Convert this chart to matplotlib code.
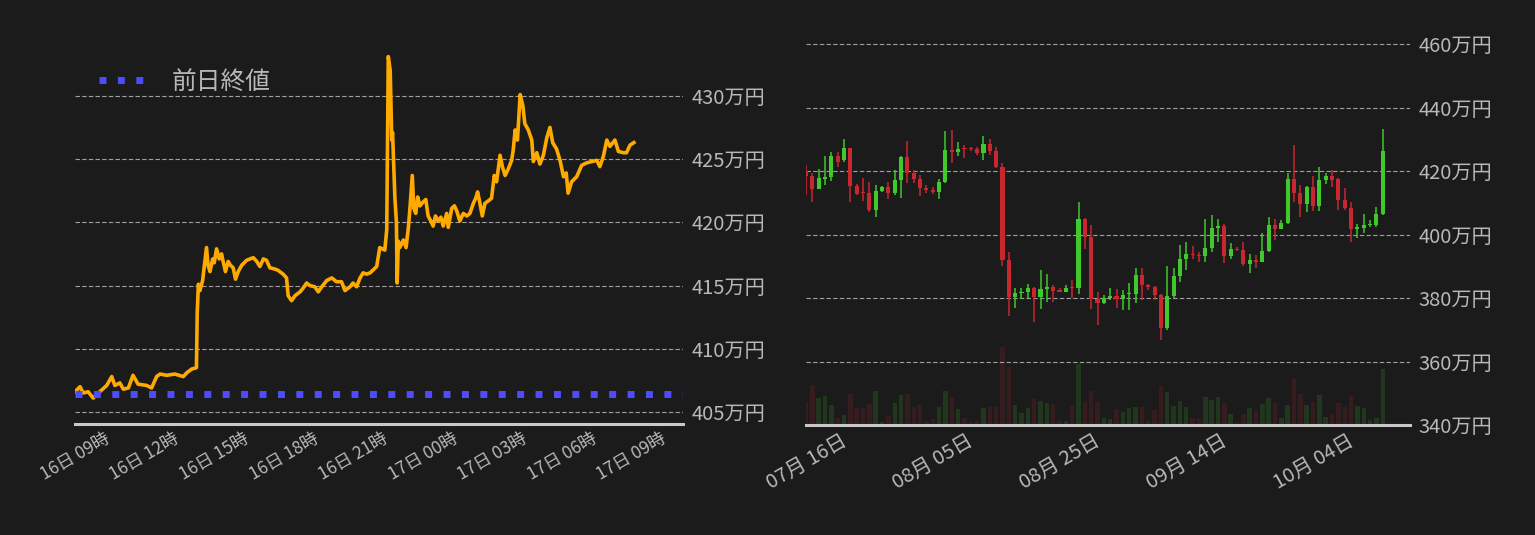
import numpy as np
import pandas as pd
import matplotlib
matplotlib.use('Agg')
import matplotlib.pyplot as plt
import matplotlib.dates as mdates
from matplotlib.ticker import FuncFormatter, FixedLocator

# ---------------- data ----------------
intraday_base = '2024-10-16 09:00'
intraday_minutes = [-98, -85, -77, -64, -51, -34, -16, -3, 5, 18,
                    27, 40, 52, 65, 87, 100, 113, 122, 139, 160,
                    182, 191, 204, 216, 218, 221, 225, 232, 238, 242,
                    246, 251, 258, 262, 268, 275, 281, 285, 291, 298,
                    304, 311, 317, 324, 333, 346, 363, 372, 380, 389,
                    397, 406, 419, 427, 440, 449, 453, 462, 471, 484,
                    492, 501, 509, 522, 531, 540, 553, 566, 578, 591,
                    600, 613, 621, 630, 639, 647, 656, 665, 682, 690,
                    703, 708, 712, 717, 721, 723, 729, 733, 735, 738,
                    742, 751, 758, 764, 768, 774, 778, 783, 788, 794,
                    802, 809, 815, 822, 828, 834, 841, 848, 854, 863,
                    867, 876, 883, 889, 897, 906, 915, 923, 932, 938,
                    943, 949, 955, 962, 971, 979, 986, 992, 1001, 1007,
                    1014, 1022, 1031, 1035, 1040, 1046, 1053, 1060, 1065, 1074,
                    1083, 1087, 1096, 1104, 1113, 1122, 1130, 1137, 1147, 1156,
                    1165, 1172, 1177, 1186, 1199, 1212, 1225, 1238, 1251, 1259,
                    1268, 1277, 1285, 1298, 1307, 1320, 1328, 1337, 1347]
intraday_price = [406.6, 407.0, 406.5, 406.6, 406.1, 406.6, 407.1, 407.8, 407.1, 407.3,
                  406.8, 406.9, 407.9, 407.2, 407.1, 406.9, 407.8, 408.0, 407.9, 408.0,
                  407.8, 408.1, 408.4, 408.5, 412.8, 415.1, 414.6, 415.4, 417.0, 418.0,
                  416.6, 416.1, 417.1, 416.8, 417.9, 417.1, 417.5, 416.9, 416.1, 416.9,
                  416.6, 416.4, 415.5, 416.1, 416.6, 417.0, 417.2, 416.9, 416.5, 417.1,
                  417.0, 416.4, 416.3, 416.2, 415.9, 415.6, 414.2, 413.8, 414.2, 414.5,
                  414.8, 415.2, 415.0, 414.9, 414.5, 414.9, 415.4, 415.6, 415.3, 415.3,
                  414.6, 414.9, 415.2, 414.9, 415.6, 416.0, 415.9, 416.0, 416.5, 418.0,
                  417.8, 419.4, 433.1, 432.0, 426.5, 427.1, 422.0, 420.0, 415.2, 418.5,
                  418.0, 418.6, 418.0, 419.6, 421.1, 423.7, 421.1, 420.7, 422.0, 421.3,
                  421.6, 421.8, 420.5, 420.1, 419.7, 420.5, 420.1, 420.4, 419.7, 420.7,
                  419.6, 421.1, 421.3, 420.9, 420.1, 420.7, 420.5, 420.7, 421.5, 421.9,
                  422.4, 421.5, 420.5, 421.5, 421.7, 421.9, 423.7, 423.2, 425.3, 424.4,
                  423.7, 424.2, 424.9, 425.7, 427.3, 426.5, 430.1, 429.2, 427.8, 427.3,
                  426.5, 424.8, 425.5, 424.6, 425.3, 426.7, 427.5, 426.3, 425.8, 424.9,
                  423.6, 423.9, 422.3, 423.2, 423.6, 424.5, 424.7, 424.8, 424.9, 424.4,
                  425.2, 426.5, 426.0, 426.5, 425.6, 425.5, 425.5, 426.1, 426.3]
prev_close = 406.42
legend_label = '前日終値'
intraday_yticks = [405, 410, 415, 420, 425, 430]

daily_start = '2024-07-09'
daily_open = [419.9, 418.5, 414.4, 417.6, 418.0, 424.8, 423.4, 427.3, 415.4, 413.2,
              413.2, 407.6, 413.6, 415.1, 413.0, 417.1, 424.5, 419.5, 417.6, 414.8,
              414.1, 413.3, 416.4, 426.7, 425.9, 427.0, 427.0, 427.0, 425.6, 428.6,
              426.4, 421.4, 392.1, 380.2, 381.5, 381.8, 383.3, 380.2, 382.7, 383.6,
              382.3, 382.0, 383.3, 383.0, 405.0, 399.3, 379.8, 378.3, 380.1, 380.7,
              379.6, 381.2, 381.2, 387.3, 384.2, 383.6, 381.0, 370.4, 380.5, 386.8,
              392.2, 394.0, 393.6, 393.1, 395.6, 401.9, 402.8, 393.1, 395.5, 395.2,
              390.6, 392.1, 391.2, 394.7, 403.1, 401.8, 403.5, 417.6, 413.2, 409.5,
              415.1, 408.9, 417.1, 418.5, 417.6, 411.0, 408.5, 401.6, 401.9, 402.9,
              402.9, 406.4]
daily_high = [422.0, 419.4, 420.6, 424.8, 426.1, 425.9, 430.2, 427.4, 416.0, 417.8,
              416.6, 415.7, 415.4, 416.6, 420.4, 424.6, 429.6, 420.4, 418.8, 415.5,
              415.1, 417.6, 432.7, 433.0, 429.2, 428.3, 427.5, 427.7, 431.1, 430.2,
              427.7, 422.6, 394.6, 383.3, 383.3, 384.5, 383.6, 388.9, 387.7, 384.2,
              383.3, 384.2, 385.8, 410.3, 405.3, 403.1, 382.0, 381.0, 383.3, 382.9,
              382.6, 384.8, 389.6, 389.6, 384.3, 383.7, 381.4, 390.2, 389.6, 396.8,
              397.7, 396.5, 394.6, 405.0, 406.2, 405.0, 403.4, 397.4, 396.0, 397.7,
              394.0, 393.6, 400.6, 405.6, 405.0, 404.7, 419.5, 428.3, 415.7, 415.4,
              418.5, 421.4, 419.5, 420.4, 417.9, 414.8, 410.3, 403.4, 406.6, 404.7,
              408.8, 433.3]
daily_low = [412.5, 410.1, 414.2, 415.7, 417.0, 421.2, 422.7, 410.1, 412.5, 410.7,
             407.0, 405.4, 413.5, 411.1, 412.5, 411.4, 416.1, 416.1, 412.0, 413.0,
             412.7, 411.1, 416.3, 422.4, 424.6, 424.0, 426.2, 425.2, 423.4, 424.9,
             421.1, 390.0, 374.2, 376.7, 379.6, 379.9, 372.3, 376.4, 378.6, 378.9,
             381.8, 381.8, 379.9, 381.2, 395.3, 376.4, 371.4, 378.0, 379.3, 376.7,
             376.1, 376.1, 378.3, 379.3, 382.4, 379.3, 366.8, 369.8, 379.9, 385.2,
             388.7, 392.2, 391.5, 391.5, 394.4, 397.7, 390.9, 392.2, 394.7, 390.0,
             387.8, 389.3, 391.2, 394.4, 398.2, 401.7, 403.4, 410.1, 405.4, 407.0,
             407.3, 407.3, 415.8, 415.1, 407.6, 407.6, 397.5, 398.8, 400.4, 402.3,
             402.3, 406.0]
daily_close = [418.3, 414.4, 417.9, 418.2, 424.8, 422.9, 427.3, 415.2, 412.9, 413.0,
               407.6, 413.8, 415.1, 413.0, 417.3, 424.5, 419.3, 417.4, 414.5, 413.9,
               413.3, 416.6, 426.7, 425.9, 427.0, 426.8, 426.8, 425.6, 428.6, 426.2,
               421.2, 391.9, 380.2, 381.7, 382.0, 383.3, 380.2, 382.9, 383.6, 382.1,
               382.0, 383.3, 383.0, 405.0, 399.1, 379.6, 378.3, 380.1, 380.7, 379.6,
               381.0, 381.4, 387.3, 384.0, 383.4, 380.8, 370.4, 380.7, 387.0, 392.4,
               394.0, 393.4, 393.1, 395.9, 402.2, 402.8, 393.1, 395.5, 395.0, 390.6,
               392.1, 391.2, 394.9, 403.1, 401.8, 403.7, 417.6, 413.0, 409.5, 415.1,
               408.9, 417.3, 418.5, 417.3, 410.8, 408.2, 401.6, 402.3, 403.1, 403.1,
               406.6, 426.4]
daily_volume = [69, 121, 81, 87, 60, 22, 30, 94, 51, 51,
                63, 102, 9, 27, 66, 90, 94, 54, 60, 12,
                18, 54, 102, 82, 48, 21, 9, 15, 51, 54,
                54, 234, 174, 60, 36, 51, 78, 72, 67, 63,
                12, 12, 57, 183, 69, 102, 69, 21, 18, 48,
                39, 51, 54, 54, 15, 45, 117, 99, 57, 72,
                54, 21, 18, 84, 75, 84, 66, 33, 9, 33,
                51, 42, 63, 81, 66, 21, 60, 138, 93, 60,
                69, 90, 24, 33, 66, 54, 87, 57, 51, 15,
                21, 168]
daily_yticks = [340, 360, 380, 400, 420, 440, 460]

# ---------------- style ----------------
plt.rcParams['font.family'] = ['Noto Sans CJK JP', 'DejaVu Sans']
BG = '#1b1b1b'
TXT = '#b8b8b8'
GRID = '#a0a0a0'
SPINE = '#c8c8c8'
ORANGE = '#ffaa00'
BLUE = '#4d4dff'
RED = '#c9262f'
GREEN = '#3fc92a'

W, H = 1535, 535
fig = plt.figure(figsize=(W / 100, H / 100), dpi=100, facecolor=BG)


def rect(x0, y0, x1, y1):
    return [x0 / W, 1 - y1 / H, (x1 - x0) / W, (y1 - y0) / H]


def style_axes(ax):
    ax.set_facecolor('none')
    for s in ['top', 'left', 'right']:
        ax.spines[s].set_visible(False)
    ax.spines['bottom'].set_color(SPINE)
    ax.spines['bottom'].set_linewidth(2.2)
    ax.yaxis.tick_right()
    ax.tick_params(axis='both', length=0, colors=TXT)
    ax.grid(axis='y', color=GRID, linestyle=(0, (4, 2)), linewidth=0.8)
    ax.grid(axis='x', visible=False)
    ax.set_axisbelow(True)


yen_fmt = FuncFormatter(lambda v, p: f'{v:.0f}万円')

# ---------------- left: intraday ----------------
ax1 = fig.add_axes(rect(75, 38, 683, 424))
style_axes(ax1)
base = pd.Timestamp(intraday_base)
t = [base + pd.Timedelta(minutes=m) for m in intraday_minutes]
ax1.plot(t, intraday_price, color=ORANGE, lw=2.6, zorder=3, solid_joinstyle='round')
ax1.axhline(prev_close, color=BLUE, linestyle=':', lw=5, zorder=4, label=legend_label,
            dash_capstyle='butt')
ax1.set_xlim(t[0], base + pd.Timedelta(minutes=1474))
ax1.set_ylim(404.05, 434.57)
ax1.yaxis.set_major_locator(FixedLocator(intraday_yticks))
ax1.yaxis.set_major_formatter(yen_fmt)
ax1.xaxis.set_major_locator(mdates.HourLocator(byhour=range(0, 24, 3)))
ax1.xaxis.set_major_formatter(mdates.DateFormatter('%d日 %H時'))
ax1.tick_params(axis='y', labelsize=14.5, pad=6)
ax1.tick_params(axis='x', labelsize=12.5, pad=4)
for lbl in ax1.get_xticklabels():
    lbl.set_rotation(30)
    lbl.set_ha('right')
leg = ax1.legend(loc='upper left', bbox_to_anchor=(0.0227, 0.946), borderaxespad=0,
                 handletextpad=0.95, frameon=False, fontsize=17.8, labelcolor=TXT)

# ---------------- right: daily candles ----------------
dates = pd.date_range(daily_start, periods=len(daily_open), freq='D')
dnum = mdates.date2num(dates)
o = np.array(daily_open)
c = np.array(daily_close)
hi = np.array(daily_high)
lo = np.array(daily_low)
up = c >= o
cols = np.where(up, GREEN, RED)

axv = fig.add_axes(rect(806, 38, 1410, 425))
axv.set_facecolor(BG)
axv.bar(dnum, daily_volume, width=0.7, color=cols, alpha=0.16, linewidth=0)
axv.set_ylim(0, max(daily_volume) * 4.96)
axv.set_xlim(dnum[0], dnum[-1] + 4.3)
axv.axis('off')

ax2 = fig.add_axes(rect(806, 38, 1410, 425), sharex=axv)
style_axes(ax2)
ax2.set_zorder(axv.get_zorder() + 1)
ax2.vlines(dnum, lo, hi, colors=cols, linewidth=1.1, zorder=3)
body_bottom = np.minimum(o, c)
body_h = np.maximum(np.abs(c - o), 0.5)
ax2.bar(dnum, body_h, bottom=body_bottom, width=0.65, color=cols, linewidth=0, zorder=4)
ax2.set_ylim(340, 461.9)
ax2.yaxis.set_major_locator(FixedLocator(daily_yticks))
ax2.yaxis.set_major_formatter(yen_fmt)
ax2.set_xticks(dnum[7::20])
ax2.xaxis.set_major_formatter(mdates.DateFormatter('%m月 %d日'))
ax2.tick_params(axis='y', labelsize=14.5, pad=6)
ax2.tick_params(axis='x', labelsize=14.5, pad=4)
for lbl in ax2.get_xticklabels():
    lbl.set_rotation(30)
    lbl.set_ha('right')
ax2.set_xlim(dnum[0], dnum[-1] + 4.3)

fig.savefig('out.png', dpi=100, facecolor=BG)
